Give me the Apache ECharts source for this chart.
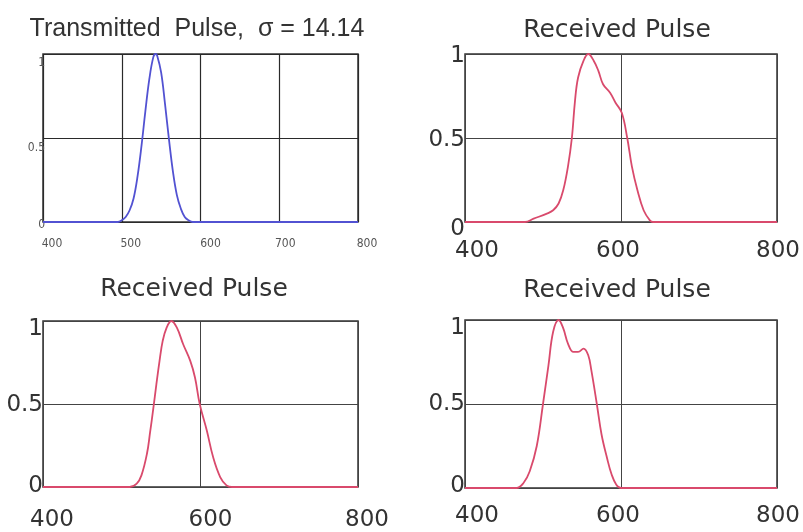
<!DOCTYPE html>
<html>
<head>
<meta charset="utf-8">
<script src="https://cdn.jsdelivr.net/npm/echarts@6/dist/echarts.min.js"></script>
<style>html,body{margin:0;padding:0;background:#fff}#c{width:803px;height:532px}</style>
</head>
<body>
<div id="c"></div>
<script>
// ---------- data ----------
const titles = ["Transmitted  Pulse,  \u03c3 = 14.14", "Received Pulse", "Received Pulse", "Received Pulse"];

const xTicksFine = [400, 500, 600, 700, 800];
const xTicksCoarse = [400, 600, 800];
const yTicks = [0, 0.5, 1];
const yTickLabels = ["0", "0.5", "1"];

// Transmitted pulse (blue)
const tx_x = [400, 495, 500, 505, 510, 515, 520, 525, 530, 535, 540, 543, 545, 550, 555, 560, 565, 570, 575, 580, 585, 590, 595, 800];
const tx_y = [0, 0, 0.01, 0.03, 0.07, 0.14, 0.27, 0.45, 0.66, 0.85, 0.98, 1.0, 0.99, 0.89, 0.70, 0.49, 0.30, 0.16, 0.08, 0.03, 0.01, 0, 0, 0];

// Received pulse, top right
const rx1_x = [400, 477, 488, 505, 513, 520, 526, 532, 537, 541, 545, 552, 558, 565, 571, 577, 586, 593, 601, 608, 614, 621, 629, 637, 641, 800];
const rx1_y = [0, 0, 0.02, 0.05, 0.07, 0.11, 0.19, 0.33, 0.5, 0.72, 0.86, 0.96, 1.0, 0.96, 0.9, 0.82, 0.77, 0.71, 0.65, 0.5, 0.33, 0.19, 0.07, 0.01, 0, 0];

// Received pulse, bottom left
const rx2_x = [400, 510, 519, 525, 532, 536, 540, 544, 548, 552, 557, 563, 570, 578, 587, 593, 599, 608, 616, 625, 633, 640, 800];
const rx2_y = [0, 0, 0.02, 0.07, 0.2, 0.33, 0.47, 0.62, 0.76, 0.88, 0.96, 1.0, 0.96, 0.86, 0.76, 0.66, 0.5, 0.34, 0.18, 0.06, 0.01, 0, 0];

// Received pulse, bottom right
const rx3_x = [400, 466, 475, 483, 492, 500, 507, 513, 520, 526, 532, 539, 545, 552, 558, 562, 569, 575, 582, 588, 594, 600, 800];
const rx3_y = [0, 0, 0.03, 0.1, 0.25, 0.5, 0.73, 0.93, 1.0, 0.95, 0.86, 0.81, 0.81, 0.83, 0.79, 0.7, 0.5, 0.32, 0.18, 0.08, 0.02, 0, 0];

// ---------- layout / style ----------
const grids = [
  {left: 43, top: 54, width: 315, height: 168},
  {left: 465, top: 54, width: 312, height: 168},
  {left: 43, top: 321, width: 315, height: 167},
  {left: 465, top: 320, width: 312, height: 168}
];
const titlePos = [[197, 29], [617, 30], [194, 289], [617, 290]];
const titleFont = ['25px "Liberation Sans"', '25px "DejaVu Sans"', '25px "DejaVu Sans"', '25px "DejaVu Sans"'];

const BIG = 23, SMALL_X = 12, SMALL_Y = 12;

function zip(xs, ys) { return xs.map((x, i) => [x, ys[i]]); }

function richLabels(ticks, texts, shifts, vertical, fontSize, fontFamily, color) {
  const rich = {};
  ticks.forEach((v, i) => {
    const s = shifts[i];
    let pad;
    if (vertical) pad = s >= 0 ? [2 * s, 0, 0, 0] : [0, 0, -2 * s, 0];
    else pad = s >= 0 ? [0, 0, 0, 2 * s] : [0, -2 * s, 0, 0];
    rich['t' + i] = {padding: pad, fontSize: fontSize, fontFamily: fontFamily, color: color};
  });
  return {
    formatter: function (val) {
      let idx = -1;
      ticks.forEach((t, i) => { if (Math.abs(t - val) < 1e-9) idx = i; });
      return idx < 0 ? '' : '{t' + idx + '|' + texts[idx] + '}';
    },
    rich: rich
  };
}

function xAxis(gi, ticks, interval, shifts, margin, fontSize, fontFamily, color, splitColor, splitWidth) {
  const r = richLabels(ticks, ticks.map(String), shifts, false, fontSize, fontFamily, color);
  return {
    type: 'value', gridIndex: gi, min: 400, max: 800, interval: interval,
    axisLine: {show: false}, axisTick: {show: false},
    splitLine: {show: true, lineStyle: {color: splitColor, width: splitWidth}},
    axisLabel: {margin: margin, formatter: r.formatter, rich: r.rich, fontSize: fontSize, fontFamily: fontFamily, color: color, showMinLabel: true, showMaxLabel: true}
  };
}

function yAxis(gi, shifts, margin, fontSize, fontFamily, color, splitColor, splitWidth) {
  const r = richLabels(yTicks, yTickLabels, shifts, true, fontSize, fontFamily, color);
  return {
    type: 'value', gridIndex: gi, min: 0, max: 1, interval: 0.5,
    axisLine: {show: false}, axisTick: {show: false},
    splitLine: {show: true, lineStyle: {color: splitColor, width: splitWidth}},
    axisLabel: {margin: margin, formatter: r.formatter, rich: r.rich, fontSize: fontSize, fontFamily: fontFamily, color: color, showMinLabel: true, showMaxLabel: true}
  };
}

const BLUE = '#5252d2', RED = '#d94a6c';

function lineSeries(i, xs, ys, color) {
  return {type: 'line', xAxisIndex: i, yAxisIndex: i, data: zip(xs, ys), showSymbol: false,
    smooth: 0.4, lineStyle: {color: color, width: 1.8}, z: 5};
}

const option = {
  backgroundColor: '#ffffff',
  animation: false,
  grid: grids.map(g => Object.assign({show: true, borderColor: '#333', borderWidth: 1.5, backgroundColor: 'transparent', containLabel: false}, g)),
  xAxis: [
    xAxis(0, xTicksFine, 100, [9, 9, 10, 6, 9], 16, SMALL_X, '"DejaVu Sans Condensed"', '#555', '#2a2a2a', 1.2),
    xAxis(1, xTicksCoarse, 200, [12, -3, 1], 18, BIG, '"DejaVu Sans"', '#333', '#444', 1),
    xAxis(2, xTicksCoarse, 200, [9, 10, 9], 22, BIG, '"DejaVu Sans"', '#333', '#444', 1),
    xAxis(3, xTicksCoarse, 200, [12, -3, 1], 17, BIG, '"DejaVu Sans"', '#333', '#444', 1)
  ],
  yAxis: [
    yAxis(0, [3, 10, 9], -2, SMALL_Y, '"DejaVu Sans Condensed"', '#555', '#2a2a2a', 1.2),
    yAxis(1, [7, 2, 2], 0, BIG, '"DejaVu Sans"', '#333', '#444', 1),
    yAxis(2, [-1, 1, 8], 0, BIG, '"DejaVu Sans"', '#333', '#444', 1),
    yAxis(3, [-2, 0, 8], 0, BIG, '"DejaVu Sans"', '#333', '#444', 1)
  ],
  series: [
    lineSeries(0, tx_x, tx_y, BLUE),
    lineSeries(1, rx1_x, rx1_y, RED),
    lineSeries(2, rx2_x, rx2_y, RED),
    lineSeries(3, rx3_x, rx3_y, RED)
  ],
  graphic: titles.map((t, i) => ({
    type: 'text', x: titlePos[i][0], y: titlePos[i][1], z: 10,
    style: {text: t, font: titleFont[i], fill: '#333', align: 'center', verticalAlign: 'middle', textAlign: 'center', textVerticalAlign: 'middle'}
  }))
};

const chart = echarts.init(document.getElementById('c'), null, {renderer: 'canvas'});
chart.setOption(option);
</script>
</body>
</html>
